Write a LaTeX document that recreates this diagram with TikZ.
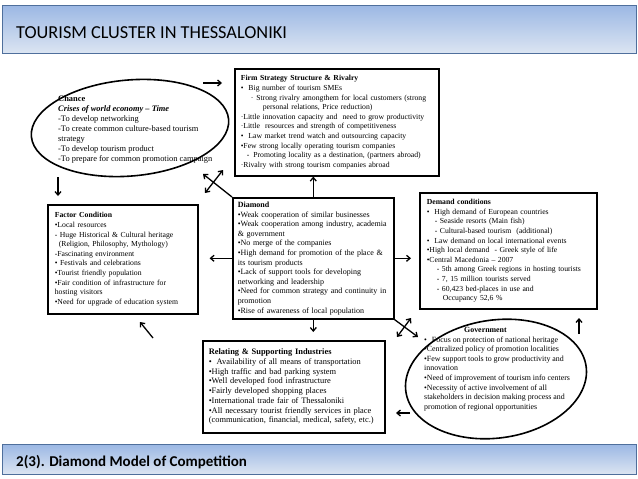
\documentclass[tikz,border=0pt]{standalone}
\usepackage{fontspec}
\setmainfont{Liberation Serif}
\newfontfamily\slidefont{Carlito}
\usetikzlibrary{arrows.meta,shapes.geometric,calc}

\definecolor{barblue}{HTML}{9CB8E4}
\definecolor{barlight}{HTML}{DCE5F2}
\definecolor{barline}{HTML}{4F6F9C}

\tikzset{
  bar/.style={draw=barline, line width=1pt, top color=barblue, bottom color=barlight, anchor=north west},
  infobox/.style={draw, line width=1.6pt, anchor=north west, align=left, inner xsep=6pt, inner ysep=4pt,
    font=\fontsize{7.7}{9.6}\selectfont},
  infoball/.style={draw, ellipse, line width=1.6pt, inner sep=0pt},
  balltext/.style={anchor=north west, align=left, inner sep=0pt, font=\fontsize{7.7}{9.6}\selectfont},
  link/.style={line width=1.3pt, -{Straight Barb[length=3.5pt,width=6pt]}},
  twolink/.style={line width=1.3pt, {Straight Barb[length=3.5pt,width=6pt]}-{Straight Barb[length=3.5pt,width=6pt]}}
}

\begin{document}
\begin{tikzpicture}[x=1pt,y=-1pt]
  \useasboundingbox (0,0) rectangle (638,479);
  % title bars
  \node[bar, minimum width=634pt, minimum height=48pt] (topbar) at (2,5) {};
  \node[anchor=base west, inner sep=0pt, font=\slidefont\fontsize{18.3}{20}\selectfont] (title) at (16,38) {TOURISM CLUSTER IN THESSALONIKI};
  \node[bar, minimum width=634pt, minimum height=30pt] (footbar) at (2,444) {};
  \node[anchor=base west, inner sep=0pt, font=\slidefont\bfseries\fontsize{15}{17}\selectfont] (subtitle) at (16,466) {2(3). Diamond Model of Competition};

  % chance
  \node[infoball, rotate=5, minimum width=198pt, minimum height=96pt] (chance) at (130,128) {};
  \node[balltext, font=\fontsize{8.4}{10}\selectfont] (chancetext) at (58,95) {\textbf{Chance}\\
    \textbf{\textit{Crises of world economy -- Time}}\\
    -To develop networking\\
    -To create common culture-based tourism\\
    strategy\\
    -To develop tourism product\\
    -To prepare for common promotion campaign};

  % firm strategy
  \node[infobox, text width=192pt, minimum height=107pt] (firm) at (234,68) {\textbf{Firm Strategy Structure \& Rivalry}\\
    •\hspace*{5pt}Big number of tourism SMEs\\
    \hspace*{10pt}·\hspace*{3pt}Strong rivalry amongthem for local customers (strong\\
    \hspace*{22pt}personal relations, Price reduction)\\
    ·Little innovation capacity and\ \ need to grow productivity\\
    ·Little\ \ resources and strength of competitiveness\\
    •\hspace*{5pt}Law market trend watch and outsourcing capacity\\
    •Few strong locally operating tourism companies\\
    \hspace*{6pt}-\hspace*{4pt}Promoting locality as a destination, (partners abroad)\\
    ·Rivalry with strong tourism companies abroad};

  % demand
  \node[infobox, inner xsep=7pt, text width=163pt, minimum height=116pt] (demand) at (419,192) {\textbf{Demand conditions}\\
    •\hspace*{5pt}High demand of European countries\\
    \hspace*{8pt}- Seaside resorts (Main fish)\\
    \hspace*{8pt}- Cultural-based tourism\ \ (additional)\\
    •\hspace*{5pt}Law demand on local international events\\
    •High local demand\ \ - Greek style of life\\
    •Central Macedonia -- 2007\\
    \hspace*{10pt}- 5th among Greek regions in hosting tourists\\
    \hspace*{10pt}- 7, 15 million tourists served\\
    \hspace*{10pt}- 60,423 bed-places in use and\\
    \hspace*{16pt}Occupancy 52,6 \%};

  % diamond
  \node[infobox, inner xsep=5pt, text width=151pt, minimum height=121pt, font=\fontsize{8}{9.6}\selectfont] (diamond) at (232,197) {\textbf{Diamond}\\
    •Weak cooperation of similar businesses\\
    •Weak cooperation among industry, academia\\
    \& government\\
    •No merge of the companies\\
    •High demand for promotion of the place \&\\
    its tourism products\\
    •Lack of support tools for developing\\
    networking and leadership\\
    •Need for common strategy and continuity in\\
    promotion\\
    •Rise of awareness of local population};

  % factor
  \node[infobox, inner xsep=7pt, text width=136pt, minimum height=109pt] (factor) at (47,204) {\textbf{Factor Condition}\\
    •Local resources\\
    - Huge Historical \& Cultural heritage\\
    \hspace*{4pt}(Religion, Philosophy, Mythology)\\
    -Fascinating environment\\
    • Festivals and celebrations\\
    •Tourist friendly population\\
    •Fair condition of infrastructure for\\
    hosting visitors\\
    •Need for upgrade of education system};

  % relating
  \node[infobox, text width=170pt, minimum height=92pt, font=\fontsize{8.4}{9.7}\selectfont] (relating) at (202,340) {\textbf{Relating \& Supporting Industries}\\
    •\hspace*{5pt}Availability of all means of transportation\\
    •High traffic and bad parking system\\
    •Well developed food infrastructure\\
    •Fairly developed shopping places\\
    •International trade fair of Thessaloniki\\
    •All necessary tourist friendly services in place\\
    (communication, financial, medical, safety, etc.)};

  % government
  \node[infoball, rotate=8, minimum width=182pt, minimum height=118pt] (government) at (496,379) {};
  \node[balltext, font=\fontsize{7.9}{9.6}\selectfont] (governmenttext) at (424,327) {\hspace*{40pt}\textbf{Government}\\
    •\hspace*{5pt}Focus on protection of national heritage\\
    •Centralized policy of promotion localities\\
    •Few support tools to grow productivity and\\
    innovation\\
    •Need of improvement of tourism info centers\\
    •Necessity of active involvement of all\\
    stakeholders in decision making process and\\
    promotion of regional opportunities};

  % free ends
  \coordinate (chanceout) at (203,83);
  \coordinate (chancein) at (222,83);
  \coordinate (chancedown) at (58,177);
  \coordinate (factorin) at (58,196);
  \coordinate (cornerA) at (203,174);
  \coordinate (crossA1) at (205,193);
  \coordinate (crossA2) at (223,170);
  \coordinate (cornerB) at (418,337);
  \coordinate (crossB1) at (397,337);
  \coordinate (crossB2) at (411,318);
  \coordinate (relout) at (153,338);
  \coordinate (relin) at (140,322);
  \coordinate (govleft) at (410,413);
  \coordinate (relright) at (396,413);
  \coordinate (govup) at (579,334);
  \coordinate (demandin) at (579,318);

  % connectors
  \draw[link] (chanceout) -- (chancein);
  \draw[link] (chancedown) -- (factorin);
  \draw[link] (diamond.north) -- (diamond.north |- firm.south);
  \draw[link] (diamond.west) -- ($(diamond.west -| factor.east)+(11,0)$);
  \draw[link] (diamond.east) -- ($(diamond.east -| demand.west)+(-8,0)$);
  \draw[link] (diamond.south) -- ($(diamond.south |- relating.north)+(0,-8)$);
  \draw[link] (diamond.north west) -- (cornerA);
  \draw[twolink] (crossA1) -- (crossA2);
  \draw[link] (diamond.south east) -- (cornerB);
  \draw[twolink] (crossB1) -- (crossB2);
  \draw[link] (relout) -- (relin);
  \draw[link] (govleft) -- (relright);
  \draw[link] (govup) -- (demandin);
\end{tikzpicture}
\end{document}
